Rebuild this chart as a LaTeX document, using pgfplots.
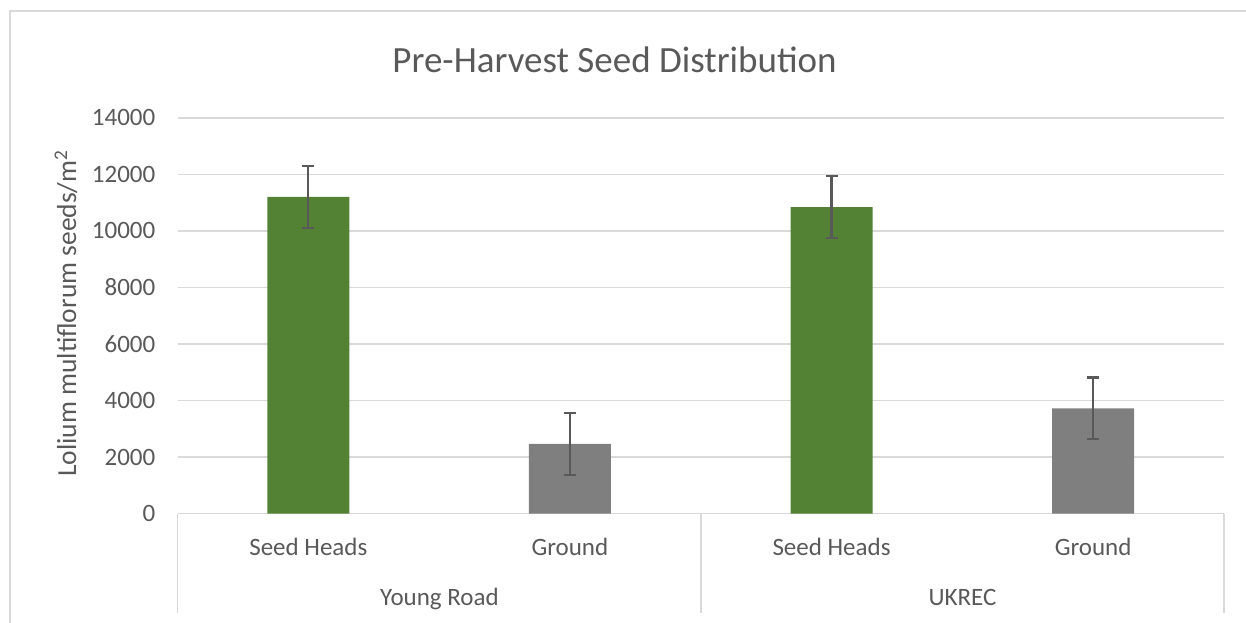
\documentclass[border=0pt]{standalone}
\usepackage{pgfplots}
\pgfplotsset{compat=1.18}
\usepackage{fontspec}
\setmainfont{Carlito}
\definecolor{grn}{HTML}{548235}
\definecolor{gry}{HTML}{7F7F7F}
\definecolor{txt}{HTML}{595959}
\definecolor{grd}{HTML}{D9D9D9}
\definecolor{err}{HTML}{595959}
\begin{document}
\begin{tikzpicture}[x=1pt,y=1pt]
\useasboundingbox (0,0) rectangle (1246,-622);
\begin{scope}
\clip (0,0) rectangle (1246,-622);
\draw[grd, line width=1.5pt] (10,-630) -- (10,-11) -- (1260,-11);
\end{scope}
\node[txt, font=\fontsize{37}{44}\selectfont] at (614.5,-60) {Pre-Harvest Seed Distribution};
\begin{axis}[
  at={(177.5pt,-513.5pt)}, anchor=south west,
  width=1046.5pt, height=395.7pt, scale only axis,
  xmin=-0.5, xmax=3.5, ymin=0, ymax=14000,
  axis line style={draw=none},
  ymajorgrids, grid style={grd, line width=1.5pt},
  ytick={0,2000,...,14000},
  xtick={0,1,2,3}, xticklabels={Seed Heads,Ground,Seed Heads,Ground},
  major tick length=0pt, tick style={draw=none},
  tick label style={font=\fontsize{25}{30}\selectfont, color=txt},
  yticklabel style={anchor=east, inner sep=0pt, xshift=-22pt},
  xticklabel style={anchor=base, inner sep=0pt, yshift=-41.5pt},
  /pgf/number format/assume math mode=true,
  scaled y ticks=false,
  yticklabel style={/pgf/number format/1000 sep={}},
  clip=false,
]
\addplot[ybar, bar width=82pt, bar shift=0pt, fill=grn, draw=none,
  error bars/.cd, y dir=both, y explicit,
  error bar style={line width=2.2pt, color=err},
  error mark options={rotate=90, mark size=6pt, line width=2.2pt, color=err}]
  coordinates {(0,11200) +- (0,1100) (2,10840) +- (0,1100)};
\addplot[ybar, bar width=82pt, bar shift=0pt, fill=gry, draw=none,
  error bars/.cd, y dir=both, y explicit,
  error bar style={line width=2.2pt, color=err},
  error mark options={rotate=90, mark size=6pt, line width=2.2pt, color=err}]
  coordinates {(1,2460) +- (0,1095) (3,3720) +- (0,1090)};
\end{axis}
\node[rotate=90, txt, font=\fontsize{27.5}{33}\selectfont] at (66,-313.5) {Lolium multiflorum seeds/m\textsuperscript{2}};
\draw[grd, line width=1.5pt] (177.5,-513.5) -- (177.5,-613);
\draw[grd, line width=1.5pt] (701,-513.5) -- (701,-613);
\draw[grd, line width=1.5pt] (1224,-513.5) -- (1224,-613);
\node[txt, anchor=base, inner sep=0pt, font=\fontsize{25}{30}\selectfont] at (439.5,-605) {Young Road};
\node[txt, anchor=base, inner sep=0pt, font=\fontsize{25}{30}\selectfont] at (962.5,-605) {UKREC};
\end{tikzpicture}
\end{document}
